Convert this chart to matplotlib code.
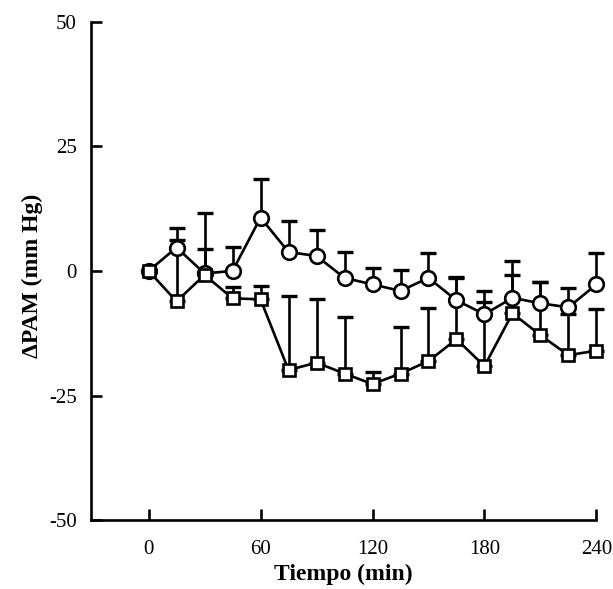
import numpy as np
import matplotlib
matplotlib.use('Agg')
import matplotlib.pyplot as plt

plt.rcParams['font.family'] = ['Liberation Serif', 'DejaVu Serif']
plt.rcParams['axes.unicode_minus'] = False

# time points (min)
tiempo = [0, 15, 30, 45, 60, 75, 90, 105, 120, 135, 150, 165, 180, 195, 210, 225, 240]

# circles
circ = [0, 4.7, -0.5, 0, 10.7, 3.8, 3.0, -1.4, -2.7, -4.0, -1.4, -5.9, -8.7, -5.4, -6.5, -7.3, -2.7]
circ_err = [0, 4.0, 4.9, 4.8, 7.7, 6.2, 5.2, 5.2, 3.2, 4.2, 4.9, 4.6, 4.7, 7.4, 4.3, 3.8, 6.3]

# squares
sq = [0, -6.1, -0.8, -5.5, -5.7, -19.9, -18.4, -20.6, -22.7, -20.6, -18.1, -13.7, -19.1, -8.5, -12.9, -16.9, -16.0]
sq_err = [0, 12.4, 12.5, 2.2, 2.7, 14.9, 12.7, 11.3, 2.4, 9.3, 10.6, 12.2, 12.8, 7.7, 10.7, 8.2, 8.3]

xticks = [0, 60, 120, 180, 240]
yticks = [-50, -25, 0, 25, 50]

fig = plt.figure(figsize=(6.13, 5.89), dpi=100)
ax = fig.add_axes([0.148, 0.117, 0.825, 0.846])

t = np.array(tiempo)
for y, e in [(circ, circ_err), (sq, sq_err)]:
    y = np.array(y)
    e = np.array(e)
    ax.errorbar(t[1:], y[1:], yerr=[np.zeros(len(e) - 1), e[1:]], fmt='none',
                ecolor='black', elinewidth=1.9, capsize=5.5, capthick=2.4,
                clip_on=False, zorder=2)

ax.plot(t, circ, '-', color='black', lw=1.9, marker='o', ms=10.5,
        mfc='white', mec='black', mew=1.9, clip_on=False, zorder=3)
ax.plot(t, sq, '-', color='black', lw=1.9, marker='s', ms=9,
        mfc='white', mec='black', mew=1.9, clip_on=False, zorder=4)

ax.set_xlim(-31, 240)
ax.set_ylim(-50, 50)
ax.set_xticks(xticks)
ax.set_yticks(yticks)
ax.spines['top'].set_visible(False)
ax.spines['right'].set_visible(False)
ax.spines['left'].set_linewidth(1.9)
ax.spines['bottom'].set_linewidth(1.9)
ax.tick_params(direction='in', length=8, width=1.9, labelsize=15)
ax.tick_params(axis='x', pad=14)
ax.tick_params(axis='y', pad=10)

ax.set_xlabel('Tiempo (min)', fontsize=17, fontweight='bold')
ax.set_ylabel('ΔPAM (mm Hg)', fontsize=17, fontweight='bold')
ax.xaxis.set_label_coords(0.5, -0.088)
ax.yaxis.set_label_coords(-0.095, 0.49)

fig.savefig('out.png', dpi=100)
